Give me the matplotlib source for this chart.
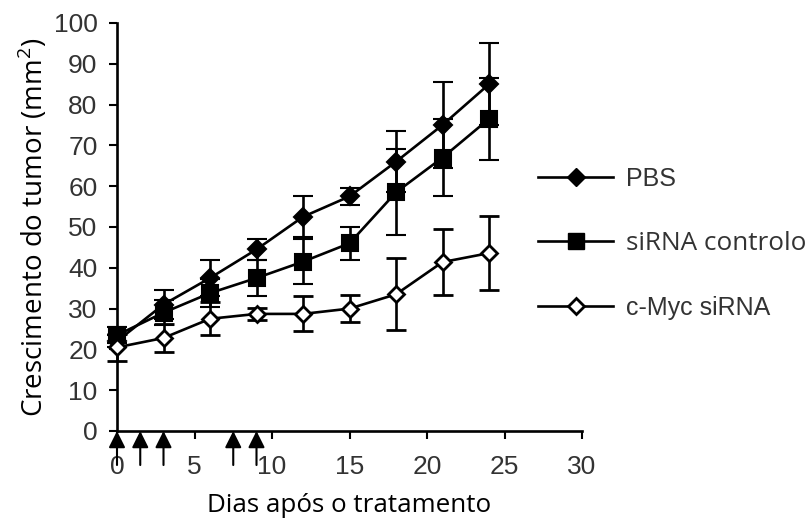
import numpy as np
import matplotlib.pyplot as plt
from matplotlib.lines import Line2D

# --- Data ---
days = [0, 3, 6, 9, 12, 15, 18, 21, 24]

pbs = [22, 31, 37.5, 44.5, 52.5, 57.5, 66, 75, 85]
pbs_err = [1.5, 3.5, 4.5, 2.5, 5, 2, 7.5, 10.5, 10]

sirna_ctrl = [23.5, 29, 33.8, 37.5, 41.5, 46, 58.5, 67, 76.5]
sirna_ctrl_err = [2, 3, 3.5, 4.5, 5.5, 4, 10.5, 9.5, 10]

cmyc = [20.5, 22.8, 27.5, 28.7, 28.7, 30, 33.5, 41.4, 43.6]
cmyc_err = [3.3, 3.4, 4, 1.5, 4.3, 3.4, 8.8, 8, 9]

# treatment days (arrows under the x axis)
treat_days = [0, 1.5, 3, 7.5, 9]

labels = ['PBS', 'siRNA controlo', 'c-Myc siRNA']

# --- Style ---
plt.rcParams['font.family'] = ['Liberation Sans', 'DejaVu Sans']
plt.rcParams['mathtext.fontset'] = 'custom'
plt.rcParams['mathtext.rm'] = 'Open Sans'
txt_col = '#333333'
lw = 1.9

fig = plt.figure(figsize=(8.09, 5.20), dpi=100)
ax = fig.add_axes([117 / 809, 1 - 431 / 520, 465 / 809, 408 / 520])

common = dict(color='black', lw=lw, elinewidth=lw, capsize=7.5, capthick=lw, clip_on=False)
ax.errorbar(days, pbs, yerr=pbs_err, marker='D', ms=9.5, mfc='black', mew=1.5, zorder=3, **common)
ax.errorbar(days, sirna_ctrl, yerr=sirna_ctrl_err, marker='s', ms=12, mfc='black', mew=1.5, zorder=4, **common)
ax.errorbar(days, cmyc, yerr=cmyc_err, marker='D', ms=8.5, mfc='white', mew=2, zorder=5, **common)

ax.set_xlim(0, 30)
ax.set_ylim(0, 100)
ax.set_xticks(np.arange(0, 31, 5))
ax.set_yticks(np.arange(0, 101, 10))

for s in ['top', 'right']:
    ax.spines[s].set_visible(False)
for s in ['left', 'bottom']:
    ax.spines[s].set_linewidth(lw)
ax.tick_params(direction='out', length=6, width=1.5, labelsize=19, labelcolor=txt_col)
ax.tick_params(axis='x', pad=11)
ax.tick_params(axis='y', pad=8)

# treatment arrows
for d in treat_days:
    ax.annotate('', xy=(d, 0), xycoords=('data', 'axes fraction'),
                xytext=(0, -24.5), textcoords='offset points',
                arrowprops=dict(arrowstyle='-|>,head_length=1.0,head_width=0.5',
                                color='black', lw=1.5, shrinkA=0, shrinkB=0),
                annotation_clip=False)

ax.set_ylabel('Crescimento do tumor (mm$^2$)', family='Open Sans', fontsize=20, labelpad=3)
ax.set_xlabel('Dias após o tratamento', family='Open Sans', fontsize=18.7, labelpad=10)

# legend
handles = [
    Line2D([], [], color='black', lw=lw, marker='D', ms=9.5, mfc='black'),
    Line2D([], [], color='black', lw=lw, marker='s', ms=12, mfc='black'),
    Line2D([], [], color='black', lw=lw, marker='D', ms=8.5, mfc='white', mew=2),
]
leg = fig.legend(handles, labels, loc='center left', bbox_to_anchor=(538 / 809, 1 - 243 / 520),
                 frameon=False, fontsize=18, handlelength=3.0, handletextpad=0.5,
                 labelspacing=1.6, borderpad=0, borderaxespad=0)
for t in leg.get_texts():
    t.set_color(txt_col)
leg.get_texts()[1].set_family('Open Sans')
leg.get_texts()[1].set_fontsize(18.8)

fig.savefig('out.png', dpi=100)
